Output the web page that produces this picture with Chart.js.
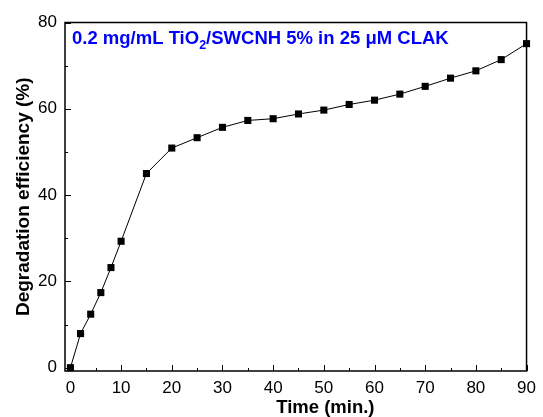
<!DOCTYPE html>
<html>
<head>
<meta charset="utf-8">
<script src="https://cdn.jsdelivr.net/npm/chart.js@4"></script>
<style>
  html, body { margin: 0; padding: 0; background: #fff; }
  canvas { display: block; }
</style>
</head>
<body>
<canvas id="chart" width="543" height="417"></canvas>
<script>
// ====== Datos ======
const tiempos = [0, 2, 4, 6, 8, 10, 15, 20, 25, 30, 35, 40, 45, 50, 55, 60, 65, 70, 75, 80, 85, 90];
const eficiencia = [0, 7.9, 12.4, 17.4, 23.2, 29.3, 45.0, 50.9, 53.3, 55.7, 57.3, 57.7, 58.8, 59.7, 61.0, 62.0, 63.4, 65.2, 67.1, 68.8, 71.4, 75.1];
const xTicks = [0, 10, 20, 30, 40, 50, 60, 70, 80, 90];
const yTicks = [0, 20, 40, 60, 80];
const xMinor = [5, 15, 25, 35, 45, 55, 65, 75, 85];
const yMinor = [10, 30, 50, 70];

const FONT = 'Arial, "Liberation Sans", sans-serif';

// Marco + ticks hacia adentro + títulos
const framePlugin = {
  id: 'frame',
  afterDraw(chart) {
    const { ctx, chartArea: a, scales: { x, y } } = chart;
    ctx.save();
    ctx.strokeStyle = '#000';
    ctx.lineWidth = 1.5;
    ctx.strokeRect(a.left, a.top, a.right - a.left, a.bottom - a.top);

    ctx.lineWidth = 1;
    ctx.beginPath();
    xTicks.forEach(v => {
      const px = Math.round(x.getPixelForValue(v)) + 0.5;
      ctx.moveTo(px, a.bottom); ctx.lineTo(px, a.bottom - 6);
    });
    xMinor.forEach(v => {
      const px = Math.round(x.getPixelForValue(v)) + 0.5;
      ctx.moveTo(px, a.bottom); ctx.lineTo(px, a.bottom - 3);
    });
    yTicks.forEach(v => {
      const py = Math.round(y.getPixelForValue(v)) + 0.5;
      ctx.moveTo(a.left, py); ctx.lineTo(a.left + 6, py);
    });
    yMinor.forEach(v => {
      const py = Math.round(y.getPixelForValue(v)) + 0.5;
      ctx.moveTo(a.left, py); ctx.lineTo(a.left + 3, py);
    });
    ctx.stroke();

    // Título del eje X (en el original va bajo el 50)
    ctx.fillStyle = '#000';
    ctx.textAlign = 'center';
    ctx.textBaseline = 'middle';
    ctx.font = 'bold 18.5px ' + FONT;
    ctx.fillText('Time (min.)', x.getPixelForValue(50.3), 408);

    // Título azul dentro del gráfico
    ctx.fillStyle = '#0000ff';
    ctx.textBaseline = 'alphabetic';
    ctx.textAlign = 'left';
    let tx = a.left + 7;
    const ty = a.top + 21.5;
    ctx.font = 'bold 18.5px ' + FONT;
    const p1 = '0.2 mg/mL TiO';
    ctx.fillText(p1, tx, ty);
    tx += ctx.measureText(p1).width;
    ctx.font = 'bold 12.5px ' + FONT;
    ctx.fillText('2', tx, ty + 4.5);
    tx += ctx.measureText('2').width;
    ctx.font = 'bold 18.5px ' + FONT;
    ctx.fillText('/SWCNH 5% in 25 \u03bcM CLAK', tx, ty);
    ctx.restore();
  }
};

new Chart(document.getElementById('chart'), {
  type: 'line',
  data: {
    datasets: [{
      data: tiempos.map((t, i) => ({ x: t, y: eficiencia[i] })),
      borderColor: '#000',
      borderWidth: 1,
      backgroundColor: '#000',
      pointStyle: 'rect',
      pointRadius: 5,
      pointBorderWidth: 0,
      tension: 0,
      clip: false
    }]
  },
  options: {
    responsive: false,
    animation: false,
    devicePixelRatio: 1,
    layout: { padding: { left: 0, top: 22.5, right: 10, bottom: 0 } },
    plugins: { legend: { display: false }, tooltip: { enabled: false } },
    scales: {
      x: {
        type: 'linear',
        min: -1.07,
        max: 90,
        afterBuildTicks: s => { s.ticks = xTicks.map(v => ({ value: v })); },
        afterFit: s => { s.height = 46; },
        grid: { display: false, drawTicks: false },
        border: { display: false },
        ticks: { color: '#000', padding: 7, maxRotation: 0, autoSkip: false, font: { family: FONT, size: 17 } }
      },
      y: {
        type: 'linear',
        min: -0.77,
        max: 80,
        afterBuildTicks: s => { s.ticks = yTicks.map(v => ({ value: v })); },
        afterFit: s => { s.width = 65; },
        grid: { display: false, drawTicks: false },
        border: { display: false },
        ticks: { color: '#000', padding: 8, autoSkip: false, font: { family: FONT, size: 17 } },
        title: { display: true, text: 'Degradation efficiency (%)', color: '#000', padding: { top: 12, bottom: 0 }, font: { family: FONT, size: 19, weight: 'bold' } }
      }
    }
  },
  plugins: [framePlugin]
});
</script>
</body>
</html>
